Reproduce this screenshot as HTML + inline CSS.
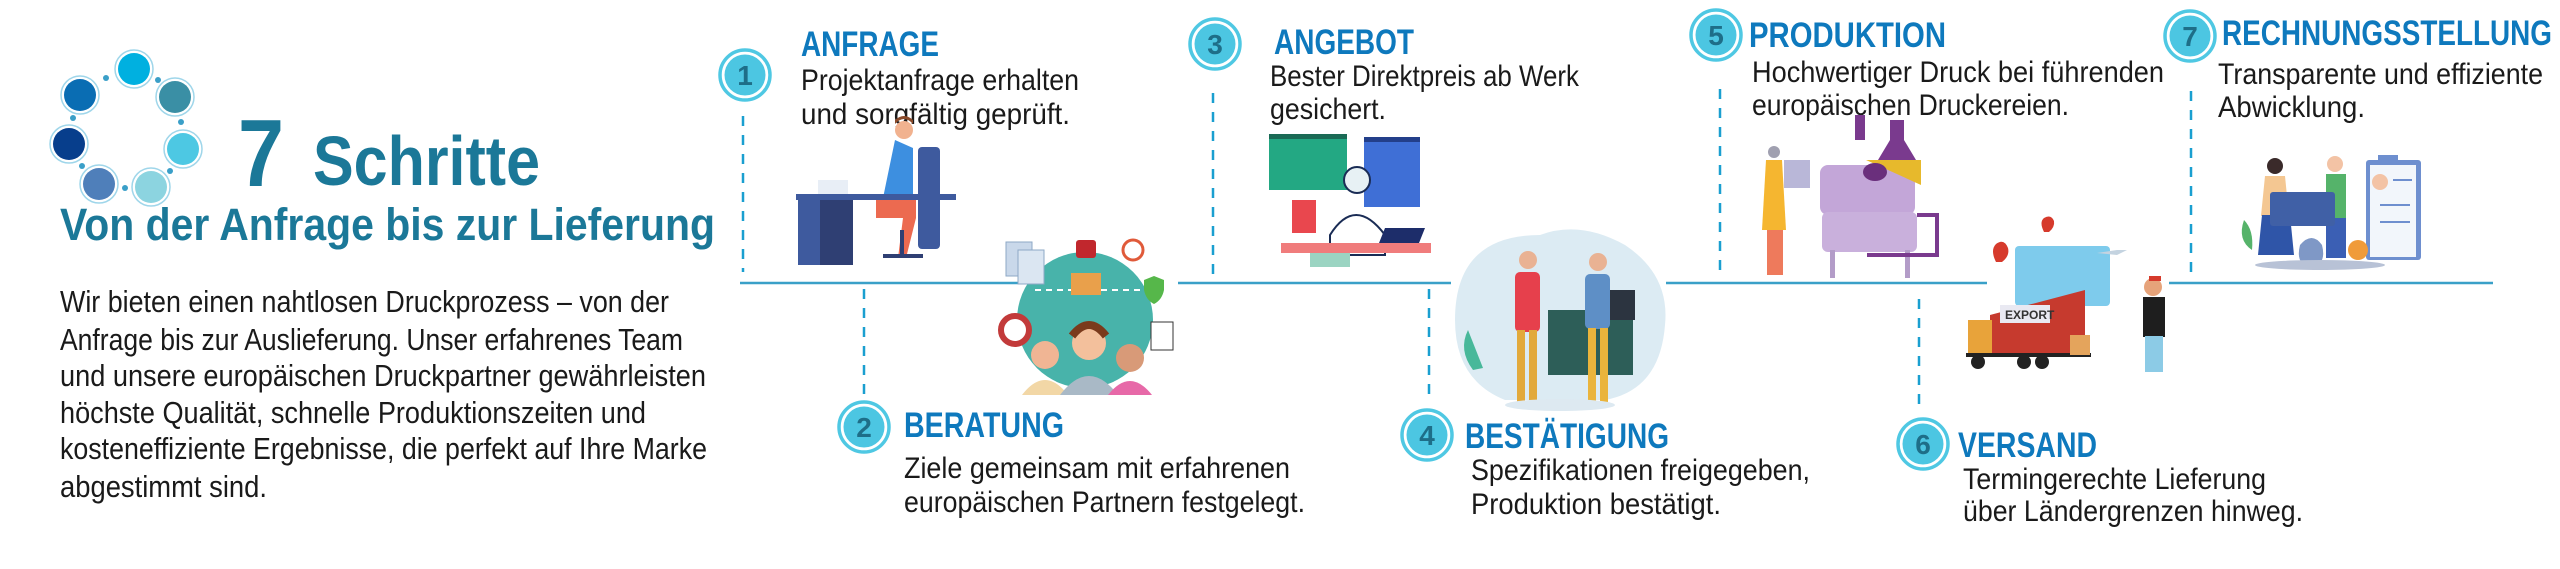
<!DOCTYPE html>
<html><head><meta charset="utf-8"><style>
html,body{margin:0;padding:0;background:#fff;width:2560px;height:569px;overflow:hidden}
svg{display:block}
.h{font-family:"Liberation Sans",sans-serif;font-weight:bold;font-size:35px;fill:#0e79bd}
.d{font-family:"Liberation Sans",sans-serif;font-size:30px;fill:#1a1a1a}
.p{font-family:"Liberation Sans",sans-serif;font-size:31px;fill:#1a1a1a}
.t{font-family:"Liberation Sans",sans-serif;font-weight:bold;fill:#1b7898}
.n{font-family:"Liberation Sans",sans-serif;font-weight:bold;font-size:28px;fill:#1e6e88}
.dash{stroke:#1a9fd0;stroke-width:2.5;stroke-dasharray:10 9;fill:none}
</style></head><body>
<svg width="2560" height="569" viewBox="0 0 2560 569" xmlns="http://www.w3.org/2000/svg">
<defs>
<g id="c"><circle r="25" fill="none" stroke="#4fc8e3" stroke-width="3.5"/><circle r="20.5" fill="#4cc6e2"/></g>
<g id="rc"><circle r="19" fill="#fff" stroke="#9fd6ea" stroke-width="1.5"/></g>
</defs>
<!-- ring icon -->
<g>
<g transform="translate(134,69)"><use href="#rc"/><circle r="16" fill="#00b0e0"/></g>
<g transform="translate(175,97)"><use href="#rc"/><circle r="16" fill="#3a8fa5"/></g>
<g transform="translate(183,149)"><use href="#rc"/><circle r="16" fill="#4dc8e3"/></g>
<g transform="translate(151,187)"><use href="#rc"/><circle r="16" fill="#8cd4e0"/></g>
<g transform="translate(99,184)"><use href="#rc"/><circle r="16" fill="#4f7fba"/></g>
<g transform="translate(69,144)"><use href="#rc"/><circle r="16" fill="#073e8c"/></g>
<g transform="translate(80,95)"><use href="#rc"/><circle r="16" fill="#0a6db3"/></g>
<g fill="#3a9fc8"><circle cx="106" cy="78" r="3"/><circle cx="158" cy="80" r="3"/><circle cx="181" cy="122" r="3"/><circle cx="170" cy="171" r="3"/><circle cx="125" cy="188" r="3"/><circle cx="82" cy="166" r="3"/><circle cx="73" cy="118" r="3"/></g>
</g>
<text class="t" x="238" y="186" font-size="96" textLength="46" lengthAdjust="spacingAndGlyphs">7</text>
<text class="t" x="313" y="185" font-size="70" textLength="227" lengthAdjust="spacingAndGlyphs">Schritte</text>
<text class="t" x="60" y="240" font-size="45" textLength="655" lengthAdjust="spacingAndGlyphs">Von der Anfrage bis zur Lieferung</text>
<text class="p" x="60" y="312" textLength="609" lengthAdjust="spacingAndGlyphs">Wir bieten einen nahtlosen Druckprozess – von der</text>
<text class="p" x="60" y="350" textLength="623" lengthAdjust="spacingAndGlyphs">Anfrage bis zur Auslieferung. Unser erfahrenes Team</text>
<text class="p" x="60" y="386" textLength="646" lengthAdjust="spacingAndGlyphs">und unsere europäischen Druckpartner gewährleisten</text>
<text class="p" x="60" y="423" textLength="586" lengthAdjust="spacingAndGlyphs">höchste Qualität, schnelle Produktionszeiten und</text>
<text class="p" x="60" y="459" textLength="647" lengthAdjust="spacingAndGlyphs">kosteneffiziente Ergebnisse, die perfekt auf Ihre Marke</text>
<text class="p" x="60" y="497" textLength="207" lengthAdjust="spacingAndGlyphs">abgestimmt sind.</text>

<!-- timeline -->
<g stroke="#3aa0c8" stroke-width="2.5">
<line x1="740" y1="283" x2="1019" y2="283"/><line x1="1178" y1="283" x2="1451" y2="283"/>
<line x1="1666" y1="283" x2="1987" y2="283"/><line x1="2169" y1="283" x2="2493" y2="283"/>
</g>
<line class="dash" x1="743" y1="116" x2="743" y2="272"/>
<line class="dash" x1="864" y1="289" x2="864" y2="396"/>
<line class="dash" x1="1213" y1="93" x2="1213" y2="278"/>
<line class="dash" x1="1429" y1="289" x2="1429" y2="401"/>
<line class="dash" x1="1720" y1="89" x2="1720" y2="276"/>
<line class="dash" x1="1919" y1="299" x2="1919" y2="412"/>
<line class="dash" x1="2191" y1="91" x2="2191" y2="276"/>

<!-- circles -->
<g transform="translate(745,75)"><use href="#c"/><text class="n" text-anchor="middle" y="10">1</text></g>
<g transform="translate(864,427)"><use href="#c"/><text class="n" text-anchor="middle" y="10">2</text></g>
<g transform="translate(1215,44)"><use href="#c"/><text class="n" text-anchor="middle" y="10">3</text></g>
<g transform="translate(1427,435)"><use href="#c"/><text class="n" text-anchor="middle" y="10">4</text></g>
<g transform="translate(1716,35)"><use href="#c"/><text class="n" text-anchor="middle" y="10">5</text></g>
<g transform="translate(1923,444)"><use href="#c"/><text class="n" text-anchor="middle" y="10">6</text></g>
<g transform="translate(2190,36)"><use href="#c"/><text class="n" text-anchor="middle" y="10">7</text></g>

<!-- headings -->
<text class="h" x="801" y="56" textLength="138" lengthAdjust="spacingAndGlyphs">ANFRAGE</text>
<text class="h" x="904" y="437" textLength="160" lengthAdjust="spacingAndGlyphs">BERATUNG</text>
<text class="h" x="1274" y="54" textLength="140" lengthAdjust="spacingAndGlyphs">ANGEBOT</text>
<text class="h" x="1465" y="448" textLength="204" lengthAdjust="spacingAndGlyphs">BESTÄTIGUNG</text>
<text class="h" x="1749" y="47" textLength="197" lengthAdjust="spacingAndGlyphs">PRODUKTION</text>
<text class="h" x="1958" y="457" textLength="139" lengthAdjust="spacingAndGlyphs">VERSAND</text>
<text class="h" x="2222" y="45" textLength="330" lengthAdjust="spacingAndGlyphs">RECHNUNGSSTELLUNG</text>

<!-- descriptions -->
<text class="d" x="801" y="90" textLength="278" lengthAdjust="spacingAndGlyphs">Projektanfrage erhalten</text>
<text class="d" x="801" y="124" textLength="269" lengthAdjust="spacingAndGlyphs">und sorgfältig geprüft.</text>
<text class="d" x="904" y="478" textLength="386" lengthAdjust="spacingAndGlyphs">Ziele gemeinsam mit erfahrenen</text>
<text class="d" x="904" y="512" textLength="401" lengthAdjust="spacingAndGlyphs">europäischen Partnern festgelegt.</text>
<text class="d" x="1270" y="86" textLength="309" lengthAdjust="spacingAndGlyphs">Bester Direktpreis ab Werk</text>
<text class="d" x="1270" y="119" textLength="116" lengthAdjust="spacingAndGlyphs">gesichert.</text>
<text class="d" x="1471" y="480" textLength="339" lengthAdjust="spacingAndGlyphs">Spezifikationen freigegeben,</text>
<text class="d" x="1471" y="514" textLength="250" lengthAdjust="spacingAndGlyphs">Produktion bestätigt.</text>
<text class="d" x="1752" y="82" textLength="412" lengthAdjust="spacingAndGlyphs">Hochwertiger Druck bei führenden</text>
<text class="d" x="1752" y="115" textLength="317" lengthAdjust="spacingAndGlyphs">europäischen Druckereien.</text>
<text class="d" x="1963" y="489" textLength="303" lengthAdjust="spacingAndGlyphs">Termingerechte Lieferung</text>
<text class="d" x="1963" y="521" textLength="340" lengthAdjust="spacingAndGlyphs">über Ländergrenzen hinweg.</text>
<text class="d" x="2218" y="84" textLength="325" lengthAdjust="spacingAndGlyphs">Transparente und effiziente</text>
<text class="d" x="2218" y="117" textLength="147" lengthAdjust="spacingAndGlyphs">Abwicklung.</text>

<!-- illus 1: desk -->
<g>
<rect x="918" y="147" width="22" height="102" rx="4" fill="#3e5a9e"/>
<rect x="818" y="180" width="30" height="28" fill="#e8eef6"/>
<path d="M895 140 l18 8 v50 h-30 z" fill="#3d8fe0"/>
<circle cx="904" cy="130" r="9" fill="#f1b28f"/><path d="M895 124 q9-10 18 0 v-4 q-9-8-18 0z" fill="#8a4a2a"/>
<path d="M876 200 h40 v18 l-10 40 h-8 l5-40 h-27z" fill="#ec6a50"/>
<rect x="796" y="194" width="160" height="6" fill="#3e5a9e"/>
<rect x="798" y="200" width="55" height="65" fill="#3e5a9e"/><rect x="820" y="200" width="33" height="65" fill="#2f3f73"/>
<rect x="900" y="230" width="4" height="25" fill="#2f3f73"/><rect x="883" y="254" width="40" height="4" fill="#2f3f73"/>
</g>
<!-- illus 2: support -->
<g>
<circle cx="1085" cy="320" r="68" fill="#48b3aa"/>
<line x1="1035" y1="290" x2="1140" y2="290" stroke="#fff" stroke-width="2" stroke-dasharray="6 5"/>
<rect x="1071" y="273" width="30" height="22" fill="#e9a04b"/>
<rect x="1006" y="242" width="26" height="34" fill="#c9d8ea" stroke="#8ea8c6"/><rect x="1018" y="250" width="26" height="34" fill="#dbe6f2" stroke="#8ea8c6"/>
<rect x="1076" y="240" width="20" height="18" rx="3" fill="#c1272d"/>
<circle cx="1133" cy="250" r="10" fill="#fff" stroke="#e05a3a" stroke-width="3"/>
<path d="M1154 276 l10 4 v10 q-2 10-10 14 q-8-4-10-14 v-10z" fill="#56b74a"/>
<circle cx="1015" cy="330" r="14" fill="#fff" stroke="#c23a3a" stroke-width="6"/>
<rect x="1151" y="322" width="22" height="28" fill="#fff" stroke="#333"/>
<circle cx="1045" cy="355" r="14" fill="#f0b594"/><path d="M1022 395 q23-30 46 0z" fill="#f2d7a6"/>
<circle cx="1089" cy="343" r="17" fill="#f3c09c"/><path d="M1060 395 q29-38 58 0z" fill="#a9b9c6"/>
<circle cx="1130" cy="358" r="14" fill="#d89a78"/><path d="M1108 395 q22-28 44 0z" fill="#e769a8"/>
<path d="M1072 336 q17-22 34 0" stroke="#7a3a1c" stroke-width="8" fill="none"/>
</g>
<!-- illus 3: offer -->
<g>
<rect x="1269" y="134" width="78" height="56" fill="#23a883"/><rect x="1269" y="134" width="78" height="5" fill="#1a6a55"/>
<rect x="1364" y="137" width="56" height="70" fill="#3f6fd6"/><rect x="1364" y="137" width="56" height="5" fill="#233f8a"/>
<rect x="1292" y="200" width="24" height="33" fill="#e9474e"/>
<circle cx="1357" cy="180" r="13" fill="#e7f1f4" stroke="#1a2c55" stroke-width="2"/>
<path d="M1330 235 q25-40 55 0 v20 h-55z" fill="#fff" stroke="#1a2c55" stroke-width="2"/>
<path d="M1385 228 h40 l-10 25 h-40z" fill="#1d2d6a"/>
<rect x="1281" y="243" width="150" height="10" fill="#f07c7c"/>
<rect x="1310" y="253" width="40" height="14" fill="#9bd4c2"/>
</g>
<!-- illus 4: handshake -->
<g>
<path d="M1455 320 q0-85 85-85 q40-15 85 10 q45 30 40 80 q-5 65-60 75 l-100 0 q-50-20-50-80z" fill="#dcebf3"/>
<rect x="1548" y="310" width="85" height="65" fill="#2d5e58"/>
<rect x="1605" y="290" width="30" height="30" fill="#2c3440"/>
<path d="M1468 330 q-10 20 5 40 l10 -2 z" fill="#48b89a"/>
<circle cx="1528" cy="260" r="9" fill="#e9b293"/><rect x="1515" y="272" width="25" height="60" rx="5" fill="#e6404c"/>
<rect x="1517" y="330" width="8" height="72" fill="#e2a93b"/><rect x="1529" y="330" width="8" height="72" fill="#e2a93b"/>
<circle cx="1598" cy="262" r="9" fill="#e9b293"/><rect x="1585" y="274" width="25" height="55" rx="5" fill="#5e8fc6"/>
<rect x="1588" y="328" width="8" height="75" fill="#eab43c"/><rect x="1600" y="328" width="8" height="75" fill="#eab43c"/>
<ellipse cx="1560" cy="405" rx="55" ry="6" fill="#dde9f1"/>
</g>
<!-- illus 5: machine -->
<g>
<rect x="1855" y="115" width="10" height="25" fill="#7a3a8e"/>
<path d="M1890 120 h14 v20 l12 20 h-38 l12-20z" fill="#7a3a8e"/>
<rect x="1820" y="165" width="95" height="50" rx="8" fill="#c3a6d8"/>
<path d="M1866 160 h55 v25 z" fill="#e7b92c"/>
<ellipse cx="1875" cy="172" rx="12" ry="9" fill="#6a2f7c"/>
<rect x="1822" y="212" width="95" height="40" rx="6" fill="#c9b0dc"/>
<rect x="1830" y="250" width="5" height="28" fill="#b39cc8"/><rect x="1905" y="250" width="5" height="28" fill="#b39cc8"/>
<path d="M1917 215 h20 v40 h-70" stroke="#7a3a8e" stroke-width="4" fill="none"/>
<rect x="1784" y="160" width="26" height="28" fill="#b9b7d8"/>
<circle cx="1774" cy="152" r="6" fill="#a0a0b0"/>
<path d="M1766 160 h16 l4 70 h-24z" fill="#f5b630"/>
<rect x="1767" y="230" width="16" height="45" fill="#ee7a5c"/>
</g>
<!-- illus 6: truck -->
<g>
<rect x="2015" y="246" width="95" height="60" rx="4" fill="#7ecbec"/>
<path d="M1996 262 q-6 -12 0-18 q8 -6 12 4 q2 8 -6 14z" fill="#d63a2c"/>
<path d="M2044 232 q-5 -10 0-14 q7 -4 10 3 q1 6 -5 11z" fill="#d63a2c"/>
<path d="M2097 253 l20-3 h10 l-10 5z" fill="#c4d3e0"/>
<path d="M1990 315 l95-25 v65 h-95z" fill="#c63a2e"/>
<rect x="2000" y="305" width="50" height="18" fill="#e9e9f2"/><text x="2005" y="319" font-family="Liberation Sans,sans-serif" font-size="12" font-weight="bold" fill="#333">EXPORT</text>
<rect x="1968" y="320" width="24" height="35" fill="#e8a33a"/>
<rect x="1966" y="353" width="125" height="4" fill="#222"/>
<circle cx="1978" cy="362" r="7" fill="#222"/><circle cx="2024" cy="362" r="7" fill="#222"/><circle cx="2042" cy="362" r="7" fill="#222"/>
<rect x="2070" y="335" width="20" height="20" fill="#e4a45c"/>
<circle cx="2153" cy="287" r="9" fill="#e6a37a"/><rect x="2149" y="276" width="12" height="5" fill="#d63a2c"/>
<rect x="2143" y="297" width="22" height="40" fill="#1e1e1e"/>
<rect x="2145" y="336" width="18" height="36" fill="#8ccbe6"/>
</g>
<!-- illus 7: invoice -->
<g>
<rect x="2366" y="160" width="55" height="100" rx="3" fill="#6e8fcf"/><rect x="2370" y="165" width="46" height="92" fill="#f2f6fb"/>
<rect x="2378" y="155" width="20" height="10" fill="#6e8fcf"/>
<circle cx="2380" cy="182" r="8" fill="#f3c3a5"/>
<line x1="2393" y1="180" x2="2412" y2="180" stroke="#6e8fcf" stroke-width="2"/>
<line x1="2380" y1="205" x2="2410" y2="205" stroke="#6e8fcf" stroke-width="2"/>
<line x1="2380" y1="222" x2="2410" y2="222" stroke="#6e8fcf" stroke-width="2"/>
<circle cx="2275" cy="166" r="8" fill="#3a2a2a"/><path d="M2265 176 h20 l4 40 h-28z" fill="#f4c792"/>
<path d="M2262 215 h28 l4 40 h-36z" fill="#2f55a8"/>
<circle cx="2335" cy="164" r="8" fill="#f3c3a5"/><rect x="2326" y="174" width="20" height="45" fill="#55b36a"/>
<rect x="2326" y="218" width="20" height="40" fill="#3b5fb4"/>
<rect x="2270" y="192" width="65" height="34" rx="3" fill="#4060a6"/>
<path d="M2300 245 q12-14 22 0 q5 20-11 22 q-16-2-11-22z" fill="#7f98c6"/>
<circle cx="2358" cy="250" r="10" fill="#f09b3a"/>
<path d="M2244 220 q10 10 8 30 q-15-10-8-30z" fill="#56b36a"/>
<ellipse cx="2320" cy="265" rx="65" ry="5" fill="#b8c2d6"/>
</g>
</svg>
</body></html>
